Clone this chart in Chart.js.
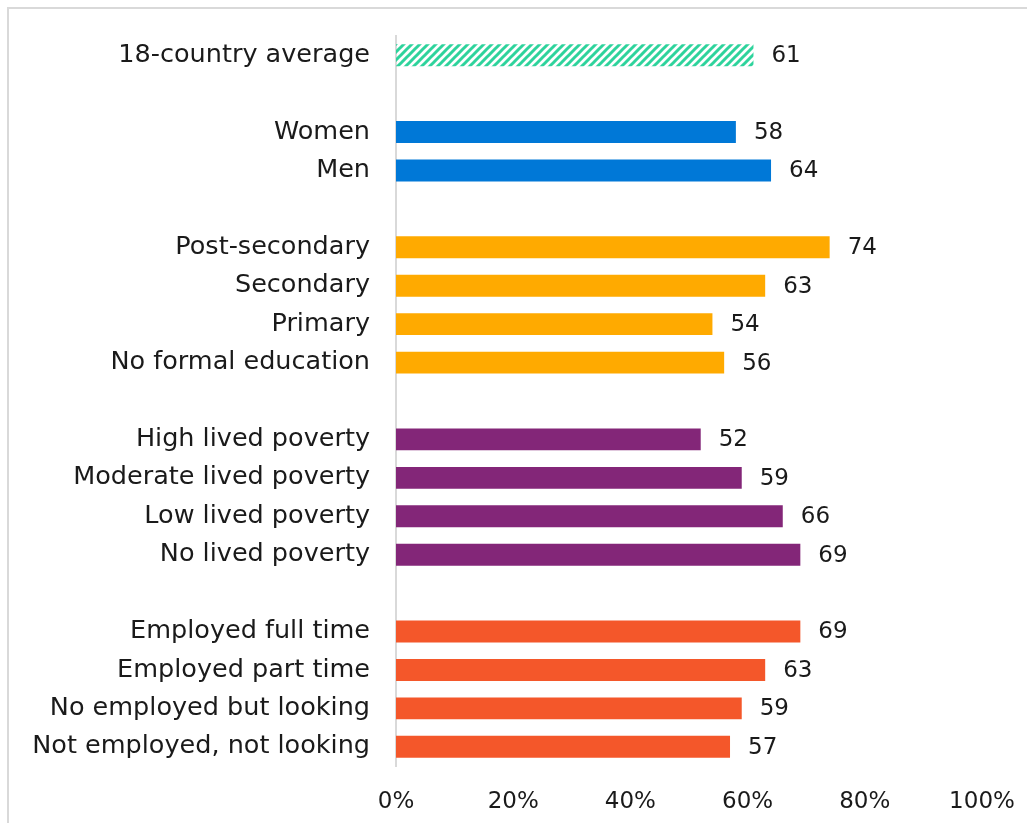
<!DOCTYPE html>
<html>
<head>
<meta charset="utf-8">
<script src="https://cdn.jsdelivr.net/npm/chart.js@4.4.1/dist/chart.umd.min.js"></script>
<style>
  html, body { margin: 0; padding: 0; background: #fff; overflow: hidden; }
  #frame { position: absolute; left: 7px; top: 7px; width: 1040px; height: 840px;
           border: 2px solid #d9d9d9; box-sizing: border-box; }
  #wrap { position: absolute; left: 0; top: 0; width: 1027px; height: 823px; }
</style>
</head>
<body>
<div id="frame"></div>
<div id="wrap"><canvas id="c" width="1027" height="823"></canvas></div>
<script>
// Row labels; empty strings are spacer rows between groups
const categories = [
  '18-country average', '',
  'Women', 'Men', '',
  'Post-secondary', 'Secondary', 'Primary', 'No formal education', '',
  'High lived poverty', 'Moderate lived poverty', 'Low lived poverty', 'No lived poverty', '',
  'Employed full time', 'Employed part time', 'No employed but looking', 'Not employed, not looking'
];
// Percent values per row (null for spacer rows)
const values = [
  61, null,
  58, 64, null,
  74, 63, 54, 56, null,
  52, 59, 66, 69, null,
  69, 63, 59, 57
];
// Group of each row, used to pick its colour
const groups = [
  'avg', null,
  'gender', 'gender', null,
  'edu', 'edu', 'edu', 'edu', null,
  'pov', 'pov', 'pov', 'pov', null,
  'emp', 'emp', 'emp', 'emp'
];
const xTicks = [0, 20, 40, 60, 80, 100];

const FONT = 'DejaVu Sans';
const LABEL_SIZE = 25.5;
const NUM_SIZE = 23;

// Diagonal hatch fill for the average row
function hatch() {
  const p = document.createElement('canvas');
  p.width = 8; p.height = 8;
  const g = p.getContext('2d');
  g.strokeStyle = '#2ed39c';
  g.lineWidth = 3;
  g.beginPath();
  g.moveTo(-2, 10); g.lineTo(10, -2);
  g.moveTo(-2, 2); g.lineTo(2, -2);
  g.moveTo(6, 10); g.lineTo(10, 6);
  g.stroke();
  return g.createPattern(p, 'repeat');
}

const palette = {
  gender: '#0078d7',
  edu: '#ffaa00',
  pov: '#832678',
  emp: '#f4572a'
};
const ctx = document.getElementById('c').getContext('2d');
const avgFill = hatch();
const colors = groups.map(g => g === 'avg' ? avgFill : (palette[g] || 'rgba(0,0,0,0)'));

// Writes each bar's value just past its end
const valueLabels = {
  id: 'valueLabels',
  afterDatasetsDraw(chart) {
    const c = chart.ctx;
    const meta = chart.getDatasetMeta(0);
    c.save();
    c.font = NUM_SIZE + 'px "' + FONT + '"';
    c.fillStyle = '#1a1a1a';
    c.textAlign = 'left';
    c.textBaseline = 'middle';
    meta.data.forEach((bar, i) => {
      const v = values[i];
      if (v === null) return;
      c.fillText(String(v), bar.x + 18, bar.y + 1);
    });
    c.restore();
  }
};

new Chart(ctx, {
  type: 'bar',
  data: {
    labels: categories,
    datasets: [{
      data: values,
      backgroundColor: colors,
      borderWidth: 0,
      barPercentage: 0.57,
      categoryPercentage: 1.0
    }]
  },
  options: {
    indexAxis: 'y',
    responsive: false,
    animation: false,
    layout: { padding: { top: 36, right: 45, bottom: 0, left: 0 } },
    plugins: { legend: { display: false }, tooltip: { enabled: false } },
    scales: {
      x: {
        min: 0, max: 100,
        afterBuildTicks(scale) { scale.ticks = xTicks.map(v => ({ value: v })); },
        grid: { display: false, drawTicks: false },
        border: { display: false },
        ticks: {
          padding: 22,
          color: '#1a1a1a',
          font: { family: FONT, size: NUM_SIZE },
          callback: v => v + '%'
        },
        afterFit(scale) {
          scale.height = 57;
          scale.paddingLeft = 0;
          scale.paddingRight = 0;
        }
      },
      y: {
        grid: { display: false, drawTicks: false },
        border: { display: true, color: '#d9d9d9', width: 2 },
        ticks: {
          padding: 26,
          color: '#1a1a1a',
          autoSkip: false,
          font: { family: FONT, size: LABEL_SIZE }
        },
        afterFit(scale) {
          scale.width = 396;
          scale.paddingTop = 0;
          scale.paddingBottom = 0;
        }
      }
    }
  },
  plugins: [valueLabels]
});
</script>
</body>
</html>
